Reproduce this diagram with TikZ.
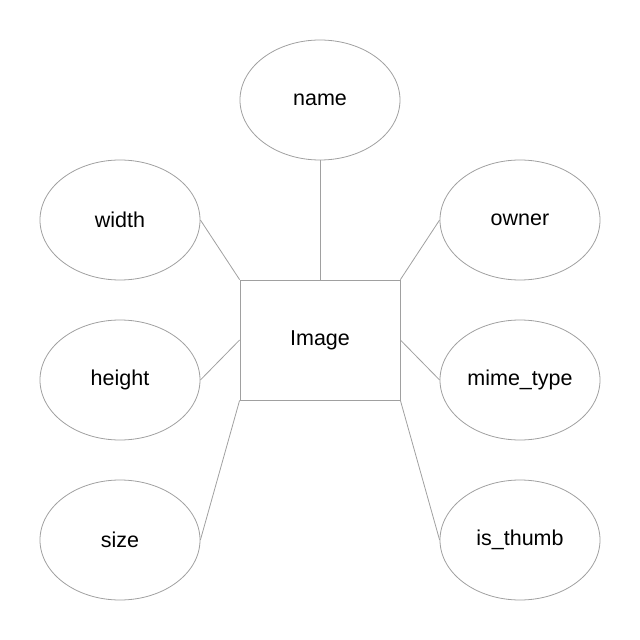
\documentclass[tikz,border=0pt]{standalone}
\usepackage{fontspec}
\setmainfont{Liberation Sans}
\usetikzlibrary{shapes,positioning}
\definecolor{linegray}{RGB}{160,160,160}

\begin{document}
\begin{tikzpicture}[x=1pt, y=1pt]
	\tikzset{AttrStyle/.style = {
			shape=ellipse,
			draw=linegray,
			line width=0.8pt,
			minimum width=160pt,
			minimum height=120pt,
			inner sep=0pt,
			font=\fontsize{21.5}{25}\selectfont
	}}
	\tikzset{EntityStyle/.style = {
			shape=rectangle,
			draw=linegray,
			line width=0.8pt,
			minimum width=160pt,
			minimum height=120pt,
			font=\fontsize{21.5}{25}\selectfont
	}}
	\useasboundingbox (-320,-300) rectangle (320,340);
	\node[EntityStyle] (img) at (0,0) {Image};
	\node[AttrStyle] (name) at (0,240) {name};
	\node[AttrStyle] (width) at (-200,120) {width};
	\node[AttrStyle] (height) at (-200,-40) {height};
	\node[AttrStyle] (size) at (-200,-200) {size};
	\node[AttrStyle] (owner) at (200,120) {owner};
	\node[AttrStyle] (mime) at (200,-40) {mime\_type};
	\node[AttrStyle] (thumb) at (200,-200) {is\_thumb};
	
	\path [draw=linegray, line width=0.8pt] (name) -- (img);
	\path [draw=linegray, line width=0.8pt] (width.east) -- (img.north west);
	\path [draw=linegray, line width=0.8pt] (height.east) -- (img.west);
	\path [draw=linegray, line width=0.8pt] (size.east) -- (img.south west);
	\path [draw=linegray, line width=0.8pt] (owner.west) -- (img.north east);
	\path [draw=linegray, line width=0.8pt] (mime.west) -- (img.east);
	\path [draw=linegray, line width=0.8pt] (thumb.west) -- (img.south east);
\end{tikzpicture}
\end{document}
